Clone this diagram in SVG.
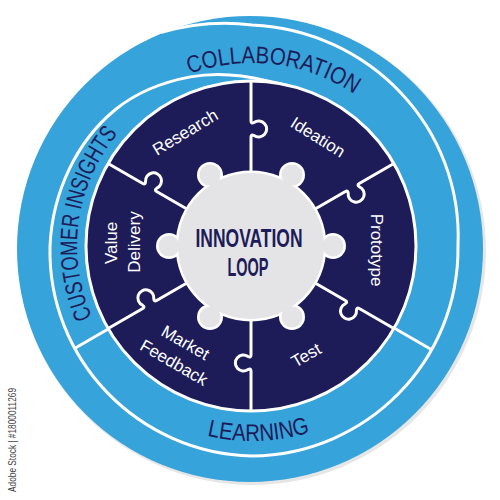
<svg xmlns="http://www.w3.org/2000/svg" width="500" height="500" viewBox="0 0 500 500">
<style>
.band{fill:#36a3da}
.wl{fill:none;stroke:#fff;stroke-width:3}
.bt{font-family:"Liberation Sans",Arial,sans-serif;font-size:24px;fill:#1d1b58}
.pl{font-family:"Liberation Sans",Arial,sans-serif;font-size:17px;fill:#fff;text-anchor:middle}
.ct{font-family:"Liberation Sans",Arial,sans-serif;font-weight:bold;font-size:25px;fill:#1d1b58;text-anchor:middle}
.gw{fill:#fff}
.gg{fill:#e4e4e6}
</style>
<defs>
<path id="pCol" d="M134.4,105.8 A183,183 0 0 1 400,138.4"/>
<path id="pCus" d="M122,363.1 A175,175 0 0 1 159.3,97.6"/>
<path id="pLea" d="M160.4,418.2 A195,195 0 0 0 355.3,411.4"/>
<path id="div" d="M60,0 H109 Q112,0 110.5,3 A8,8 0 1 0 123.5,3 Q122,0 125,0 H166"/>
</defs>
<rect width="500" height="500" fill="#fff"/>
<g id="outer-ring">
<circle cx="252" cy="251" r="234" fill="#e6e6e6"/>
<circle cx="250" cy="249" r="233" class="band"/>
<path class="wl" d="M161.4,32.4 C190.9,23.9 221.5,21.3 252,25 C369.9,30.3 463.3,128.1 458,246 C459.4,360.9 366.9,454.6 252,456 C138.2,453.2 47.2,359.8 50,246 C52.4,193.1 76.1,141.5 115.5,109.5 C137.4,91.7 164.3,81.8 190.4,76.9 C216.5,72 242.8,74.9 266.5,80.6 L290,86"/>
<line class="wl" x1="390.6" y1="326" x2="431.7" y2="349.7"/>
<line class="wl" x1="113.4" y1="326" x2="74.5" y2="348.5"/>
</g>
<g id="band-collaboration"><text class="bt"><textPath href="#pCol" startOffset="50%" text-anchor="middle" textLength="172" lengthAdjust="spacingAndGlyphs">COLLABORATION</textPath></text></g>
<g id="band-customer-insights"><text class="bt"><textPath href="#pCus" startOffset="50%" text-anchor="middle" textLength="195" lengthAdjust="spacingAndGlyphs">CUSTOMER INSIGHTS</textPath></text></g>
<g id="band-learning"><text class="bt"><textPath href="#pLea" startOffset="50%" text-anchor="middle" textLength="104" lengthAdjust="spacingAndGlyphs">LEARNING</textPath></text></g>
<g id="wheel">
<circle cx="251" cy="246" r="165" fill="#1d1b58" stroke="#fff" stroke-width="3"/>
</g>
<g id="connectors" class="wl" transform="translate(251,246)">
<use href="#div" transform="rotate(-90)"/>
<use href="#div" transform="rotate(-30)"/>
<use href="#div" transform="rotate(30)"/>
<use href="#div" transform="rotate(90)"/>
<use href="#div" transform="rotate(150)"/>
<use href="#div" transform="rotate(210)"/>
</g>
<g id="innovation-loop">
<g class="gw">
<circle cx="251" cy="246" r="75.5"/>
<circle cx="210" cy="175" r="13"/><circle cx="292" cy="175" r="13"/>
<circle cx="333" cy="246" r="13"/><circle cx="292" cy="317" r="13"/>
<circle cx="210" cy="317" r="13"/><circle cx="169" cy="246" r="13"/>
</g>
<g class="gg">
<circle cx="251" cy="246" r="73"/>
<circle cx="210" cy="175" r="10.5"/><circle cx="292" cy="175" r="10.5"/>
<circle cx="333" cy="246" r="10.5"/><circle cx="292" cy="317" r="10.5"/>
<circle cx="210" cy="317" r="10.5"/><circle cx="169" cy="246" r="10.5"/>
</g>
<text class="ct" x="249" y="247" textLength="107" lengthAdjust="spacingAndGlyphs">INNOVATION</text>
<text class="ct" x="248" y="276" textLength="41" lengthAdjust="spacingAndGlyphs">LOOP</text>
</g>
<g id="research"><text class="pl" transform="translate(185,132) rotate(-31)" y="6">Research</text></g>
<g id="ideation"><text class="pl" transform="translate(318,137) rotate(32)" y="6">Ideation</text></g>
<g id="prototype"><text class="pl" transform="translate(371,250) rotate(90)">Prototype</text></g>
<g id="test"><text class="pl" transform="translate(306,355) rotate(-30)" y="6">Test</text></g>
<g id="market-feedback"><g transform="translate(180,352) rotate(30)"><text class="pl" y="-5">Market</text><text class="pl" y="18">Feedback</text></g></g>
<g id="value-delivery"><text class="pl" transform="translate(117,243) rotate(-90)">Value</text><text class="pl" transform="translate(140,242) rotate(-90)">Delivery</text></g>
<text transform="translate(16,440) rotate(-90)" text-anchor="middle" font-family="Liberation Sans, Arial, sans-serif" font-size="10" fill="#444" textLength="104" lengthAdjust="spacingAndGlyphs">Adobe Stock | #1800011269</text>
</svg>
